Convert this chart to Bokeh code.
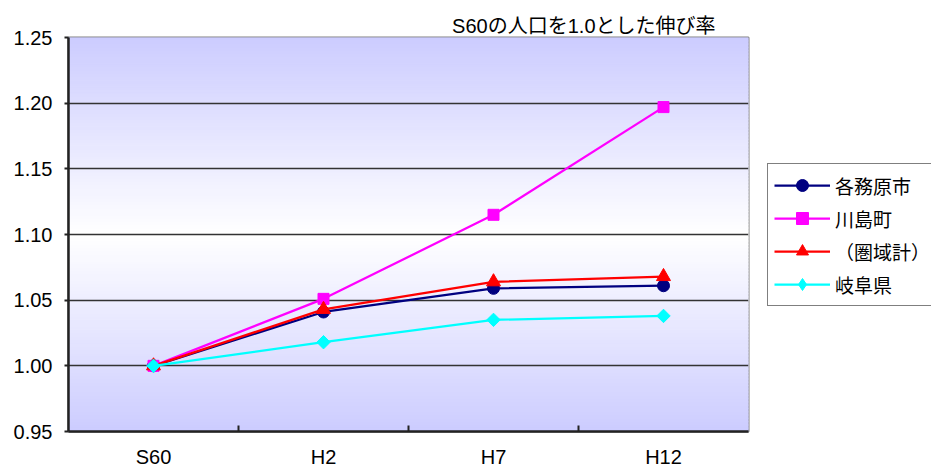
import math
from bokeh.plotting import figure
from bokeh.models import Range1d, FixedTicker, Legend, LegendItem
from bokeh.layouts import row
from bokeh.embed import file_html
from bokeh.resources import INLINE

# ---- data ----
categories = ["S60", "H2", "H7", "H12"]
kakamigahara = [1.000, 1.041, 1.059, 1.061]
kawashima = [1.000, 1.051, 1.115, 1.197]
keniki = [1.000, 1.043, 1.064, 1.068]
gifu = [1.000, 1.018, 1.035, 1.038]
series_names = ["各務原市", "川島町", "（圏域計）", "岐阜県"]
y_ticks = [0.95, 1.00, 1.05, 1.10, 1.15, 1.20, 1.25]
y_tick_labels = ["0.95", "1.00", "1.05", "1.10", "1.15", "1.20", "1.25"]
title_text = "S60の人口を1.0とした伸び率"

FONT = "'Liberation Sans', 'Noto Sans CJK JP'"
LATIN = "Liberation Sans"

xs = [i + 0.5 for i in range(len(categories))]
y0, y1 = y_ticks[0], y_ticks[-1]

p = figure(width=750, height=471, output_backend="svg", toolbar_location=None,
           x_range=Range1d(0, len(categories)), y_range=Range1d(y0, y1),
           min_border_left=68, min_border_right=2, min_border_top=37, min_border_bottom=40,
           background_fill_color="white", border_fill_color="white")

# gradient background (lavender edges, white centre)
n = 120
mid = (y0 + y1) / 2
bots, tops, cols = [], [], []
for i in range(n):
    b = y0 + (y1 - y0) * i / n
    t = y0 + (y1 - y0) * (i + 1) / n
    c = (b + t) / 2
    d = abs(c - mid) / ((y1 - y0) / 2)
    r = int(round(255 * (1 - d) + 204 * d))
    cols.append("#%02x%02x%02x" % (r, r, 255))
    bots.append(b)
    tops.append(t)
bg = p.quad(left=0, right=len(categories), bottom=bots, top=tops,
            fill_color=cols, line_color=cols, line_width=1)
bg.level = "image"

p.outline_line_color = "#808080"
p.outline_line_width = 2

# grid
p.xgrid.visible = False
p.ygrid.ticker = FixedTicker(ticks=y_ticks)
p.ygrid.grid_line_color = "#333333"
p.ygrid.grid_line_width = 1.5
p.ygrid.level = "underlay"

# y axis
p.yaxis.ticker = FixedTicker(ticks=y_ticks)
p.yaxis.major_label_overrides = {t: l for t, l in zip(y_ticks, y_tick_labels)}
p.yaxis.major_label_text_font = LATIN
p.yaxis.major_label_text_font_size = "20px"
p.yaxis.major_label_text_color = "black"
p.yaxis.major_label_standoff = 12
p.yaxis.major_tick_out = 4
p.yaxis.major_tick_in = 0
p.yaxis.minor_tick_line_color = None
p.yaxis.axis_line_color = "#222222"
p.yaxis.axis_line_width = 2.5
p.yaxis.major_tick_line_color = "#222222"
p.yaxis.major_tick_line_width = 2

# x axis
p.xaxis.ticker = FixedTicker(ticks=xs, minor_ticks=list(range(1, len(categories))))
p.xaxis.major_label_overrides = {x: c for x, c in zip(xs, categories)}
p.xaxis.major_label_text_font = LATIN
p.xaxis.major_label_text_font_size = "20px"
p.xaxis.major_label_text_color = "black"
p.xaxis.major_label_standoff = 14
p.xaxis.major_tick_out = 0
p.xaxis.major_tick_in = 0
p.xaxis.minor_tick_in = 6
p.xaxis.minor_tick_out = 0
p.xaxis.minor_tick_line_color = "#222222"
p.xaxis.minor_tick_line_width = 2
p.xaxis.axis_line_color = "#222222"
p.xaxis.axis_line_width = 2.5

# legend figure (same series, kept out of its view; only the legend shows)
q = figure(width=181, height=471, output_backend="svg", toolbar_location=None,
           x_range=Range1d(100, 101), y_range=Range1d(y0, y1),
           x_axis_location=None, y_axis_location=None,
           min_border_left=0, min_border_right=0, min_border_top=0, min_border_bottom=0,
           background_fill_color="white", border_fill_color="white")
q.grid.visible = False
q.outline_line_color = None

# series: (values, colour, marker in plot, size, angle, marker in legend)
specs = [
    (kakamigahara, "#000080", "circle", 12, 0.0, "circle"),
    (kawashima, "#FF00FF", "square", 11, 0.0, "square"),
    (keniki, "#FF0000", "triangle", 14, 0.0, "triangle"),
    (gifu, "#00FFFF", "square", 9.5, math.pi / 4, "diamond"),
]
items = []
for (vals, color, marker, size, ang, lmarker), name in zip(specs, series_names):
    p.line(xs, vals, line_color=color, line_width=2.25)
    p.scatter(xs, vals, marker=marker, size=size, angle=ang, fill_color=color, line_color=color)
    ln = q.line(xs, vals, line_color=color, line_width=2.25)
    sc = q.scatter(xs, vals, marker=lmarker, size=size, fill_color=color, line_color=color)
    items.append(LegendItem(label=name, renderers=[ln, sc]))

legend = Legend(items=items, location=(17, 125))
legend.label_text_font = FONT
legend.label_text_font_size = "19px"
legend.label_text_color = "black"
legend.glyph_width = 56
legend.glyph_height = 30
legend.label_height = 20
legend.spacing = 3
legend.padding = 6
legend.label_standoff = 5
legend.margin = 0
legend.border_line_color = "black"
legend.border_line_width = 1
legend.background_fill_color = "white"
legend.background_fill_alpha = 1
q.add_layout(legend, "center")

# title
p.title.text = title_text
p.title.text_font = FONT
p.title.text_font_size = "20px"
p.title.text_font_style = "normal"
p.title.text_color = "black"
p.title.align = "right"
p.title.offset = 33
p.title.standoff = 2

layout = row(p, q, spacing=0)
open("out.html", "w").write(file_html(layout, INLINE))
